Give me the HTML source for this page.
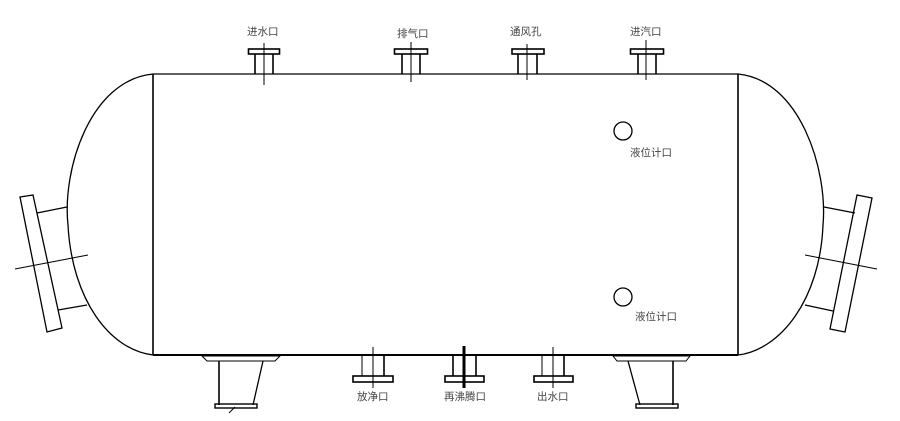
<!DOCTYPE html>
<html><head><meta charset="utf-8"><style>
html,body{margin:0;padding:0;background:#fff;width:900px;height:421px;overflow:hidden}
svg{display:block}
text{font-family:"Liberation Sans","Noto Sans CJK SC",sans-serif;font-size:10.5px;fill:#444}
</style></head><body>
<svg width="900" height="421" viewBox="0 0 900 421" xmlns="http://www.w3.org/2000/svg">
<g fill="none" stroke="#000" stroke-width="1.3">
<!-- body -->
<line x1="153" y1="74" x2="738" y2="74"/>
<line x1="153" y1="355" x2="738" y2="355" stroke-width="2"/>
<line x1="153" y1="74" x2="153" y2="355" stroke-width="1.6"/>
<line x1="738" y1="74" x2="738" y2="355" stroke-width="1.6"/>
<!-- heads -->
<path d="M153,74 C90,80 62,170 68,225 C72,300 110,350 153,355"/>
<path d="M738,74 C800,80 828,170 823,225 C820,300 780,350 738,355"/>
<!-- left nozzle -->
<polygon points="20,197 33,195 62,328 47,332"/>
<line x1="37" y1="213" x2="67" y2="207"/>
<line x1="58" y1="310" x2="87" y2="305"/>
<line x1="15" y1="269" x2="88" y2="255" stroke-width="1"/>
<!-- right nozzle -->
<polygon points="857,195 872,198 845,332 830,329"/>
<line x1="824" y1="207" x2="855" y2="213"/>
<line x1="805" y1="305" x2="833" y2="311"/>
<line x1="805" y1="255" x2="877" y2="269" stroke-width="1"/>
<!-- left support -->
<polygon points="202,356 280,356 275,361 207,361" stroke-width="1"/>
<line x1="219" y1="361" x2="219" y2="405" stroke-width="1.6"/>
<line x1="263" y1="361" x2="253" y2="405"/>
<rect x="215" y="404" width="42" height="4" stroke-width="1.4"/>
<line x1="229" y1="413" x2="235" y2="407" stroke-width="1"/>
<!-- right support -->
<polygon points="613,356 690,356 686,361 617,361" stroke-width="1"/>
<line x1="673" y1="361" x2="673" y2="405" stroke-width="1.6"/>
<line x1="628" y1="361" x2="640" y2="405"/>
<rect x="636" y="404" width="42" height="4" stroke-width="1.4"/>
<!-- circles -->
<circle cx="623" cy="131" r="9"/>
<circle cx="623" cy="297" r="9"/>
<!-- top nozzles -->
<g stroke-width="1.6">
<rect x="248.5" y="49" width="31" height="5"/><line x1="255" y1="54" x2="255" y2="74"/><line x1="273" y1="54" x2="273" y2="74"/>
<rect x="394.5" y="49" width="33" height="5"/><line x1="402" y1="54" x2="402" y2="74"/><line x1="420" y1="54" x2="420" y2="74"/>
<rect x="512" y="49" width="32" height="5"/><line x1="518" y1="54" x2="518" y2="74"/><line x1="537" y1="54" x2="537" y2="74"/>
<rect x="630.5" y="49" width="33" height="5"/><line x1="638" y1="54" x2="638" y2="74"/><line x1="656" y1="54" x2="656" y2="74"/>
</g>
<g stroke-width="1">
<line x1="264" y1="43" x2="264" y2="85"/>
<line x1="411" y1="42" x2="411" y2="82"/>
<line x1="527" y1="44" x2="527" y2="80"/>
<line x1="646" y1="40" x2="646" y2="80"/>
</g>
<!-- bottom nozzles -->
<g stroke-width="1.6">
<rect x="353" y="376" width="40" height="6"/><line x1="362" y1="355" x2="362" y2="376" stroke-width="1"/><line x1="384" y1="355" x2="384" y2="376"/>
<rect x="445" y="376" width="39" height="6"/><line x1="453" y1="355" x2="453" y2="376"/><line x1="476" y1="355" x2="476" y2="376"/>
<rect x="534" y="376" width="39" height="6"/><line x1="542" y1="355" x2="542" y2="376" stroke-width="1"/><line x1="564" y1="355" x2="564" y2="376"/>
</g>
<line x1="373" y1="347" x2="373" y2="388" stroke-width="1"/>
<line x1="464" y1="346" x2="464" y2="388" stroke-width="3"/>
<line x1="553" y1="347" x2="553" y2="388" stroke-width="1"/>
</g>
<text x="247" y="35">进水口</text>
<text x="397" y="37">排气口</text>
<text x="510" y="35">通风孔</text>
<text x="630" y="35">进汽口</text>
<text x="630" y="156">液位计口</text>
<text x="635" y="320">液位计口</text>
<text x="357" y="400">放净口</text>
<text x="444" y="400">再沸腾口</text>
<text x="537" y="400">出水口</text>
</svg>
</body></html>
